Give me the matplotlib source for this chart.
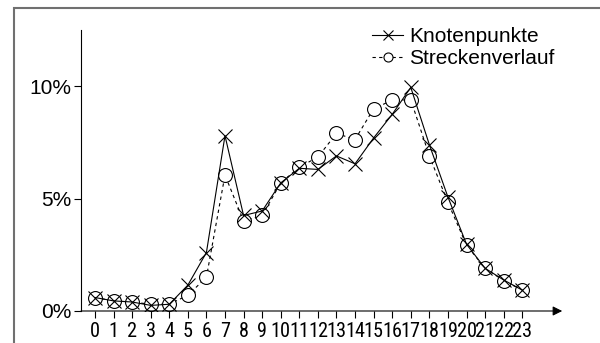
import numpy as np
import matplotlib.pyplot as plt
import matplotlib as mpl
from matplotlib.patches import Rectangle

mpl.rcParams.update({'font.family': ['Liberation Sans', 'DejaVu Sans'], 'font.size': 15})

hours = list(range(24))
knoten = [0.6, 0.45, 0.4, 0.25, 0.3, 1.15, 2.6, 7.8, 4.25, 4.45, 5.7, 6.35,
          6.3, 6.9, 6.55, 7.7, 8.75, 9.95, 7.4, 5.07, 2.97, 1.9, 1.38, 0.93]
strecke = [0.6, 0.45, 0.4, 0.3, 0.3, 0.7, 1.5, 6.05, 4.0, 4.25, 5.7, 6.4,
           6.85, 7.9, 7.63, 9.0, 9.38, 9.4, 6.9, 4.83, 2.93, 1.9, 1.35, 0.93]
yticks = [0, 5, 10]
ytick_labels = ['0%', '5%', '10%']

fig = plt.figure(figsize=(6, 3.43), dpi=100)
ax = fig.add_axes([0.135, 0.0933, 0.802, 0.819])

ax.plot(hours, strecke, ls=(0, (3, 3)), color='black', lw=0.8, marker='o', ms=10,
        mfc='white', mec='black', mew=0.8, label='Streckenverlauf', zorder=2)
ax.plot(hours, knoten, ls='-', color='black', lw=0.8, marker='x', ms=10,
        mew=0.8, label='Knotenpunkte', zorder=3)

ax.set_xlim(-0.75, 25.15)
ax.set_ylim(0, 12.5)
ax.set_xticks(hours)
ax.set_xticklabels([str(h) for h in hours],
                   family=['Liberation Sans Narrow', 'Roboto Condensed', 'DejaVu Sans'],
                   fontstretch='condensed', fontsize=14.6)
ax.set_yticks(yticks)
ax.set_yticklabels(ytick_labels)
ax.tick_params(direction='out', length=5, width=0.8, pad=2)
ax.tick_params(axis='x', pad=3)

for s in ['top', 'right', 'bottom']:
    ax.spines[s].set_visible(False)
ax.spines['left'].set_linewidth(0.8)
ax.annotate('', xy=(1, 0), xytext=(0, 0), xycoords='axes fraction',
            arrowprops=dict(arrowstyle='-|>', color='black', lw=0.8,
                            mutation_scale=14, shrinkA=0, shrinkB=0))

h, l = ax.get_legend_handles_labels()
ax.legend(h[::-1], l[::-1], loc='upper left', bbox_to_anchor=(372 / 600, 1 - 27 / 343),
          bbox_transform=fig.transFigure, frameon=False, borderpad=0,
          handlelength=1.5, handletextpad=0.3, labelspacing=0.15, markerscale=0.65,
          borderaxespad=0)

# grey frame around the figure
fig.patches.append(Rectangle((14 / 600, -0.05), 1.1, 1 - 8 / 343 + 0.05,
                             transform=fig.transFigure, fill=False,
                             edgecolor='#707070', lw=1.5))

fig.savefig('out.png', dpi=100)
